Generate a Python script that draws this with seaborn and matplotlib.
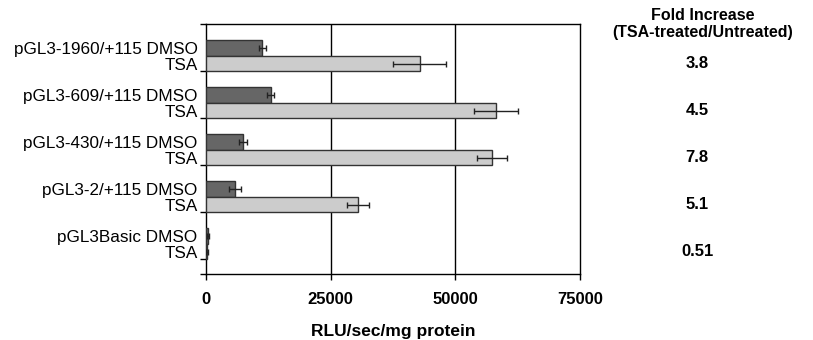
import matplotlib
matplotlib.use("Agg")
import matplotlib.pyplot as plt
import matplotlib.transforms as mtransforms
import seaborn as sns
import pandas as pd
import numpy as np

constructs = ["pGL3-1960/+115", "pGL3-609/+115", "pGL3-430/+115", "pGL3-2/+115", "pGL3Basic"]
treatments = ["DMSO", "TSA"]
dmso_values = [11300, 13000, 7400, 5900, 400]
dmso_errors = [700, 700, 800, 1200, 150]
tsa_values = [42900, 58200, 57300, 30400, 200]
tsa_errors = [5300, 4400, 3000, 2200, 150]
fold_increase = ["3.8", "4.5", "7.8", "5.1", "0.51"]
x_ticks = [0, 25000, 50000, 75000]

sns.set_theme(style="white")
plt.rcParams['font.family'] = ['Liberation Sans', 'DejaVu Sans']
plt.rcParams['text.color'] = 'black'
plt.rcParams['axes.labelcolor'] = 'black'
plt.rcParams['xtick.color'] = 'black'
plt.rcParams['ytick.color'] = 'black'

df = pd.DataFrame({
    "construct": constructs * 2,
    "treatment": ["DMSO"] * len(constructs) + ["TSA"] * len(constructs),
    "value": dmso_values + tsa_values,
})

fig = plt.figure(figsize=(8.13, 3.4), dpi=100)
ax = fig.add_axes([206 / 813, 1 - 274 / 340, 374 / 813, 250 / 340])

sns.barplot(data=df, y="construct", x="value", hue="treatment", orient="h",
            order=constructs, hue_order=treatments,
            palette={"DMSO": "#666666", "TSA": "#cccccc"},
            width=0.66, errorbar=None, edgecolor="#333333", linewidth=1.0,
            legend=False, ax=ax, zorder=3)

# error bars from bar positions
patches = [p for p in ax.patches]
n = len(constructs)
errs = dmso_errors + tsa_errors
vals = dmso_values + tsa_values
centers = []
for p, v, e in zip(patches[:2 * n], vals, errs):
    yc = p.get_y() + p.get_height() / 2
    centers.append(yc)
    ax.errorbar(v, yc, xerr=e, fmt="none", ecolor="#222222", elinewidth=1.0,
                capsize=2.5, capthick=1.0, zorder=4)

ax.set_xlim(0, 75000)
ax.set_ylim(4.64, -0.68)
ax.set_xticks(x_ticks)
ax.set_xticklabels([str(t) for t in x_ticks], fontweight="bold", fontsize=12)
for xv in x_ticks[1:3]:
    ax.axvline(xv, color="black", linewidth=1.0, zorder=1)

# y labels at each bar center
ylabels = [f"{c} DMSO" for c in constructs] + ["TSA"] * n
ax.set_yticks(centers)
ax.set_yticklabels(ylabels, fontsize=12.3)
ax.tick_params(axis="y", length=0, pad=6)
# minor tick marks at group boundaries
bounds = [-0.68] + [i + 0.33 for i in range(n)] + [4.64]
ax.set_yticks(bounds, minor=True)
ax.tick_params(axis="y", which="minor", length=4, width=1, color="black", left=True)
ax.tick_params(axis="x", length=4, width=1, color="black", bottom=True, pad=9)

for s in ax.spines.values():
    s.set_visible(True)
    s.set_color("black")
    s.set_linewidth(1.0)

ax.set_ylabel("")
ax.set_xlabel("RLU/sec/mg protein", fontweight="bold", fontsize=12.5, labelpad=12)

fig.text(703 / 813, 1 - 15 / 340, "Fold Increase", ha="center", va="center",
         fontweight="bold", fontsize=11.5)
fig.text(703 / 813, 1 - 33 / 340, "(TSA-treated/Untreated)", ha="center", va="center",
         fontweight="bold", fontsize=11.5)
trans = mtransforms.blended_transform_factory(fig.transFigure, ax.transData)
for i, f in enumerate(fold_increase):
    ax.text(697 / 813, i + 0.17, f, transform=trans, ha="center", va="center",
            fontweight="bold", fontsize=12, clip_on=False)

fig.savefig("out.png", dpi=100)
